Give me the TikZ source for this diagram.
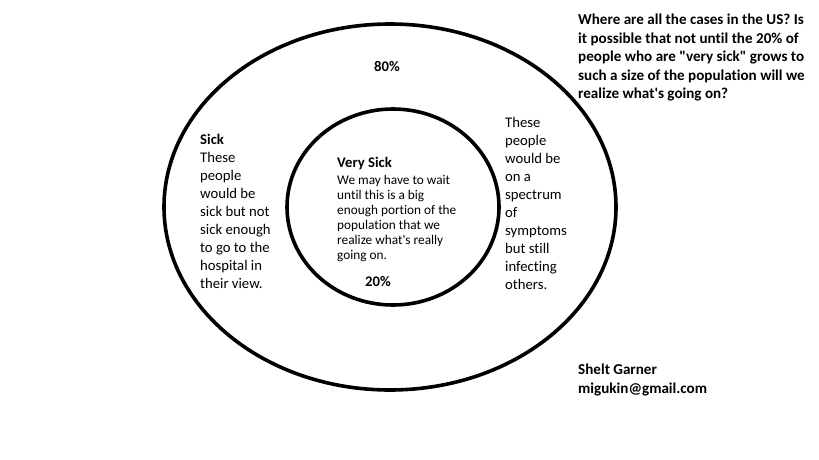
\documentclass[tikz,border=0pt]{standalone}
\usepackage{fontspec}
\setmainfont{Carlito}[Ligatures={TeXOff,NoCommon}]
\usetikzlibrary{positioning}

\begin{document}
\begin{tikzpicture}[x=1pt, y=-1pt,
        ring/.style={line width=3.6pt},
        note/.style={anchor=base west, align=left, inner sep=0pt, font=\fontsize{14.7}{18}\selectfont},
        headnote/.style={note, font=\fontsize{15.1}{18.5}\selectfont\bfseries},
        smallnote/.style={note, font=\fontsize{13.3}{15}\selectfont},
        pct/.style={anchor=base, inner sep=0pt, font=\fontsize{14.7}{18}\selectfont\bfseries}
    ]
        \useasboundingbox (0,0) rectangle (819,460);
        % the two groups (base = last line of each note)
        \draw[ring] (390,207) ellipse [x radius=226, y radius=183];
        \draw[ring] (393,207) ellipse [x radius=106, y radius=98];

        \node[headnote] (question) at (578,99) {Where are all the cases in the US? Is\\ it possible that not until the 20\% of\\ people who are "very sick" grows to\\ such a size of the population will we\\ realize what's going on?};
        \node[pct] (outerpct) at (387,71) {80\%};
        \node[note] (sick) at (200,288) {\textbf{Sick}\\ These\\ people\\ would be\\ sick but not\\ sick enough\\ to go to the\\ hospital in\\ their view.};
        \node[note] (spectrum) at (505,289) {These\\ people\\ would be\\ on a\\ spectrum\\ of\\ symptoms\\ but still\\ infecting\\ others.};
        \node[note] (verysick) at (337,167) {\textbf{Very Sick}};
        \node[smallnote] (wait) at (337,259) {We may have to wait\\ until this is a big\\ enough portion of the\\ population that we\\ realize what's really\\ going on.};
        \node[pct] (innerpct) at (378,286) {20\%};
        \node[headnote, font=\fontsize{15.1}{19}\selectfont\bfseries] (author) at (578,393) {Shelt Garner\\ migukin@gmail.com};
    \end{tikzpicture}
\end{document}
